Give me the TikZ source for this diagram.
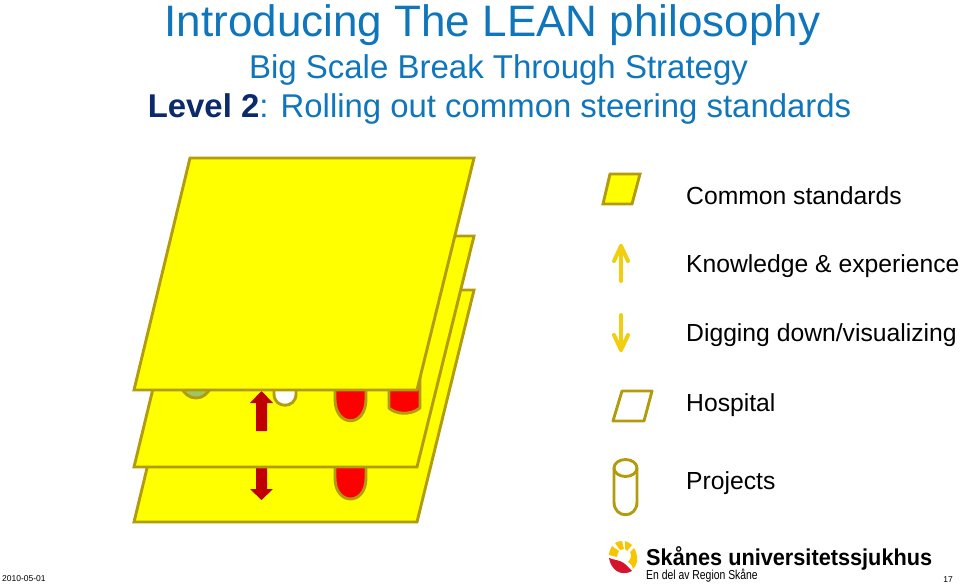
\documentclass[tikz,border=0pt]{standalone}
\usepackage{fontspec}
\setmainfont{Liberation Sans}
\definecolor{titleblue}{HTML}{0F76BC}
\definecolor{navy}{HTML}{0B2A6B}
\definecolor{olive}{HTML}{B39B0E}
\definecolor{planeyellow}{HTML}{FFFF00}
\definecolor{darkred}{HTML}{C00000}
\definecolor{gold}{HTML}{F2CE10}
\definecolor{leafgreen}{HTML}{9BC864}
\definecolor{logored}{HTML}{D7142D}
\definecolor{logoyellow}{HTML}{F7C600}
\tikzset{
  plane/.style={draw=olive,fill=planeyellow,line width=2.9pt,line join=miter},
  project/.style={draw=olive,line width=2.9pt,line join=round},
  bigarrow/.style={fill=darkred,draw=none},
  legendarrow/.style={draw=gold,line width=4pt,line cap=round,line join=round},
  legendtext/.style={anchor=west,font=\fontsize{24.7}{28}\selectfont,text=black,inner sep=0pt},
  titletext/.style={anchor=center,inner sep=0pt,text=titleblue}
}
\begin{document}
\begin{tikzpicture}[x=1pt,y=-1pt]
\useasboundingbox (0,0) rectangle (960,585);
% titles
\node[titletext,font=\fontsize{44}{48}\selectfont] (title) at (492.5,25) {Introducing The LEAN philosophy};
\node[titletext,font=\fontsize{33}{37}\selectfont] (sub) at (498.5,70) {Big Scale Break Through Strategy};
\node[titletext,font=\fontsize{32.9}{37}\selectfont] (lvl) at (499.5,109) {\textcolor{navy}{\textbf{Level 2}}: Rolling out common steering standards};
% bottom plane
\draw[plane] (190,290) -- (474,290) -- (417,522) -- (134,522) -- cycle;
\draw[project,fill=red] (335,453) -- (366,453) -- (366,478) .. controls (366,506) and (335,506) .. (335,478) -- cycle;
\fill[bigarrow] (256,460) -- (267,460) -- (267,489) -- (273,489) -- (261.5,500) -- (250,489) -- (256,489) -- cycle;
% middle plane
\draw[plane] (190,236) -- (474,236) -- (417,467) -- (134,467) -- cycle;
\draw[project,fill=leafgreen] (181,380) -- (211,380) -- (211,386) .. controls (206,402) and (186,402) .. (181,386) -- cycle;
\draw[project,fill=white] (274,380) -- (296,380) -- (296,394) .. controls (296,409) and (274,409) .. (274,394) -- cycle;
\draw[project,fill=red] (335,380) -- (366,380) -- (366,399) .. controls (366,428) and (335,428) .. (335,399) -- cycle;
\draw[project,fill=red] (389,380) -- (420,378) -- (420,408) .. controls (410,416) and (395,414) .. (389,408) -- cycle;
\fill[bigarrow] (256,431) -- (267,431) -- (267,403) -- (273,403) -- (261.5,391) -- (250,403) -- (256,403) -- cycle;
% top plane
\draw[plane] (190,158) -- (474,158) -- (417,390) -- (134,390) -- cycle;
% legend
\draw[plane] (610,174) -- (640,174) -- (632,204) -- (603,204) -- cycle;
\coordinate (upt) at (621,281);
\coordinate (uph) at (621,246);
\draw[legendarrow] (upt) -- (uph);
\draw[legendarrow] (614,261) -- (uph) -- (628,261);
\coordinate (dnt) at (621,315);
\coordinate (dnh) at (621,350);
\draw[legendarrow] (dnt) -- (dnh);
\draw[legendarrow] (614,335) -- (dnh) -- (628,335);
\draw[project] (622,391) -- (652,391) -- (644,421) -- (613,421) -- cycle;
\draw[project] (614,468) -- (614,502) .. controls (614,519) and (637,519) .. (637,502) -- (637,468);
\draw[project] (625.5,468) ellipse [x radius=11.5,y radius=8.5];
\node[legendtext] (l1) at (686,196) {Common standards};
\node[legendtext] (l2) at (686,266) {Knowledge \& experience};
\node[legendtext] (l3) at (686,335) {Digging down/visualizing};
\node[legendtext] (l4) at (686,405) {Hospital};
\node[legendtext] (l5) at (686,483) {Projects};
% footer
\node[anchor=west,inner sep=0pt,font=\fontsize{8.5}{10}\selectfont] (date) at (2,579) {2010-05-01};
\node[anchor=east,inner sep=0pt,font=\fontsize{8.5}{10}\selectfont] (page) at (953,580) {17};
% logo
\fill[logored] (609,558) .. controls (611,570) and (621,577) .. (632,571) .. controls (627,566) and (625,563) .. (620,561) .. controls (616,560) and (612,559) .. (609,558) -- cycle;
\fill[logoyellow] (609,555) .. controls (609,551) and (611,548) .. (612,546) -- (619,551) .. controls (618,553) and (617,555) .. (617,557) -- cycle;
\fill[logoyellow] (615,543) .. controls (617,542) and (619,541) .. (622,541) -- (624,549) .. controls (623,549) and (621,550) .. (620,550) -- cycle;
\fill[logoyellow] (625,541) .. controls (628,542) and (630,543) .. (632,545) -- (627,551) .. controls (626,550) and (626,550) .. (625,549) -- cycle;
\fill[logoyellow] (634,548) .. controls (638,554) and (639,563) .. (633,569) .. controls (632,565) and (630,563) .. (628,562) .. controls (631,559) and (632,555) .. (630,552) -- cycle;
\node[anchor=west,inner sep=0pt] (logo) at (646,558) {\scalebox{0.944}[1]{\fontsize{23}{26}\selectfont\bfseries Skånes universitetssjukhus}};
\node[anchor=west,inner sep=0pt] (logo2) at (646,576) {\scalebox{0.8}[1]{\fontsize{13}{15}\selectfont En del av Region Skåne}};
\end{tikzpicture}
\end{document}
